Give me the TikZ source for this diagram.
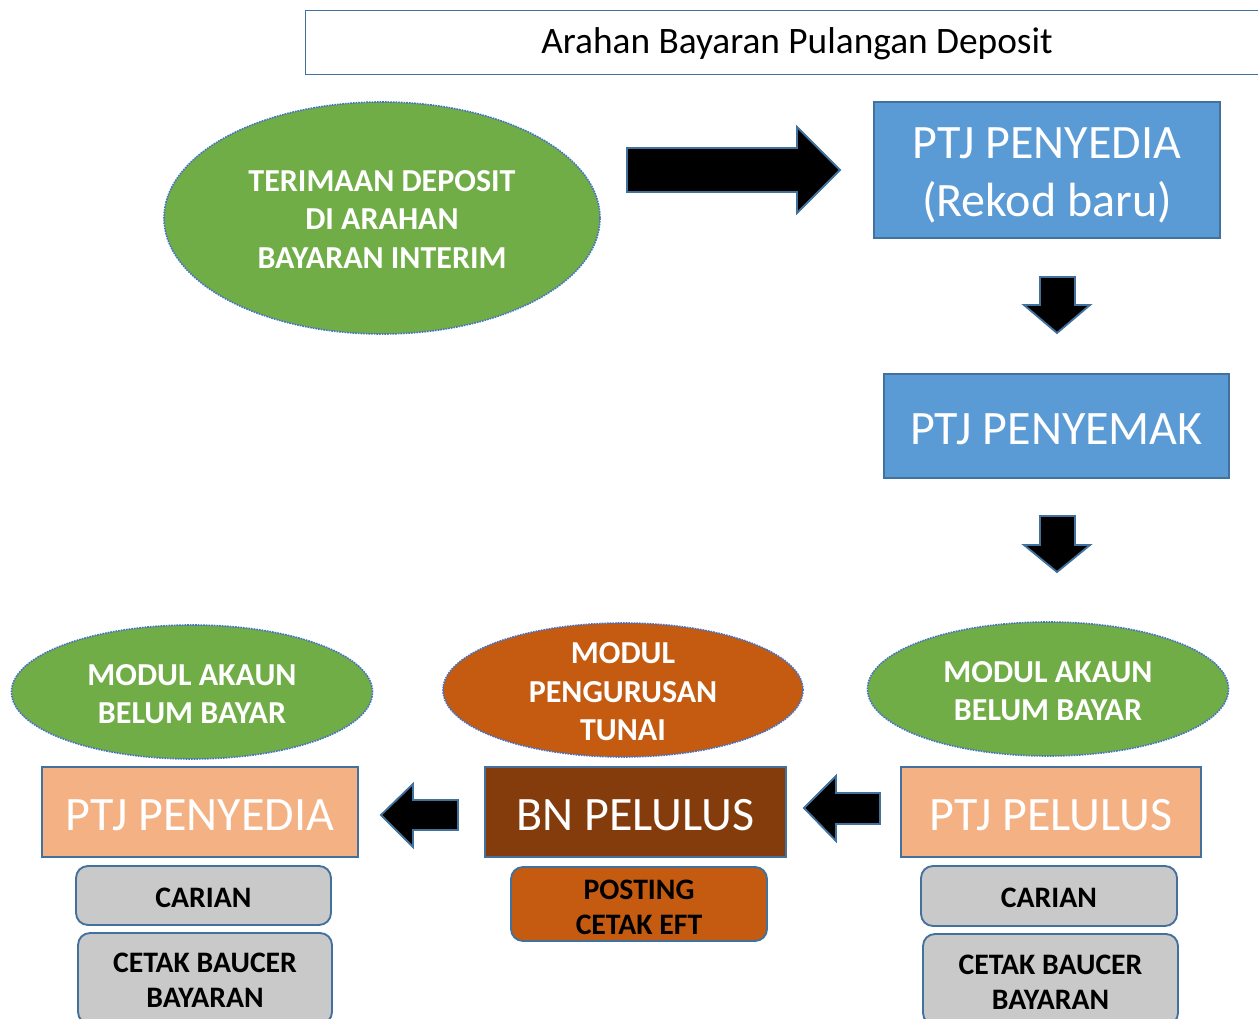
\documentclass[tikz,border=0pt]{standalone}
\usepackage{fontspec}
\setmainfont{Carlito}
\usetikzlibrary{shapes.geometric}
\definecolor{bordc}{HTML}{41719C}
\definecolor{dotc}{HTML}{4472C4}
\definecolor{grn}{HTML}{70AD47}
\definecolor{blu}{HTML}{5B9BD5}
\definecolor{peach}{HTML}{F4B183}
\definecolor{brn}{HTML}{843C0C}
\definecolor{org}{HTML}{C55A11}
\definecolor{gry}{HTML}{C9C9C9}
\tikzset{
  ell/.style={ellipse, draw=dotc, line width=1.2pt, dash pattern=on 1.2pt off 0.8pt, inner sep=0pt},
  ebold/.style={align=center, text=white, font=\bfseries\fontsize{24}{28.9}\selectfont},
  bigbox/.style={rectangle, draw=bordc, line width=1.4pt, inner sep=0pt},
  bigtxt/.style={text=white, align=center, font=\fontsize{36}{43.5}\selectfont},
  rbox/.style={rectangle, rounded corners=9pt, draw=bordc, line width=1.4pt, fill=gry, inner sep=0pt},
  rtxt/.style={align=center, font=\bfseries\fontsize{22.3}{26.3}\selectfont},
  blk/.style={fill=black, draw=bordc, line width=1.4pt, line join=miter},
}
\begin{document}
\begin{tikzpicture}[x=0.75pt,y=-0.75pt]
\useasboundingbox (0,0) rectangle (1258,1019);
\clip (0,0) rectangle (1258,1019);
\fill[white] (0,0) rectangle (1258,1019);

% title
\node (title) [rectangle, draw=bordc, line width=1pt, anchor=north west, minimum width=960*0.75pt, minimum height=64*0.75pt, inner sep=0pt] at (305,10) {};
\node (titletxt) [font=\fontsize{28}{34}\selectfont] at (797,44) {Arahan Bayaran Pulangan Deposit};

% top ellipse
\node (e1) [ell, fill=grn, minimum width=436*0.75pt, minimum height=232*0.75pt] at (382,218) {};
\node (e1t) [ebold] at (382,219.5) {TERIMAAN DEPOSIT\\DI ARAHAN\\BAYARAN INTERIM};

% big arrow
\draw[blk] (627,148) -- (797,148) -- (797,127) -- (840,170) -- (797,213) -- (797,192) -- (627,192) -- cycle;

% PTJ PENYEDIA (Rekod baru)
\node (p1) [bigbox, fill=blu, minimum width=346*0.75pt, minimum height=136*0.75pt] at (1047,170) {};
\node (p1t) [bigtxt] at (1047,175) {PTJ PENYEDIA\\(Rekod baru)};

% down arrow 1
\draw[blk] (1040,277) -- (1075,277) -- (1075,305) -- (1090,305) -- (1057,333) -- (1024,305) -- (1040,305) -- cycle;

% PTJ PENYEMAK
\node (p2) [bigbox, fill=blu, minimum width=345*0.75pt, minimum height=104*0.75pt] at (1056.5,426) {};
\node (p2t) [bigtxt] at (1056.5,429) {PTJ PENYEMAK};

% down arrow 2
\draw[blk] (1040,516) -- (1075,516) -- (1075,545) -- (1090,545) -- (1057,572) -- (1024,545) -- (1040,545) -- cycle;

% bottom ellipses
\node (m1) [ell, fill=grn, minimum width=361*0.75pt, minimum height=134*0.75pt] at (192,692) {};
\node (m1t) [ebold] at (192,694) {MODUL AKAUN\\BELUM BAYAR};
\node (m2) [ell, fill=org, minimum width=360*0.75pt, minimum height=134*0.75pt] at (623,690) {};
\node (m2t) [ebold] at (623,692) {MODUL\\PENGURUSAN\\TUNAI};
\node (m3) [ell, fill=grn, minimum width=361*0.75pt, minimum height=134*0.75pt] at (1048,689) {};
\node (m3t) [ebold] at (1048,691) {MODUL AKAUN\\BELUM BAYAR};

% row boxes
\node (b1) [bigbox, fill=peach, minimum width=316*0.75pt, minimum height=90*0.75pt] at (200,812) {};
\node (b1t) [bigtxt] at (200,815) {PTJ PENYEDIA};
\node (b2) [bigbox, fill=brn, minimum width=301*0.75pt, minimum height=90*0.75pt] at (635.5,812) {};
\node (b2t) [bigtxt] at (635.5,815) {BN PELULUS};
\node (b3) [bigbox, fill=peach, minimum width=300*0.75pt, minimum height=90*0.75pt] at (1051,812) {};
\node (b3t) [bigtxt] at (1051,815) {PTJ PELULUS};

% left arrows
\draw[blk] (458,800) -- (413,800) -- (413,784) -- (381,815) -- (413,847) -- (413,830) -- (458,830) -- cycle;
\draw[blk] (880,793) -- (836,793) -- (836,776) -- (804,808) -- (836,841) -- (836,824) -- (880,824) -- cycle;

% rounded boxes
\node (c1) [rbox, minimum width=255*0.75pt, minimum height=59*0.75pt] at (203.5,895.5) {};
\node (c1t) [rtxt] at (203.5,897.5) {CARIAN};
\node (c2) [rbox, minimum width=254*0.75pt, minimum height=91*0.75pt] at (205,978.5) {};
\node (c2t) [rtxt] at (205,980.5) {CETAK BAUCER\\BAYARAN};
\node (c3) [rbox, fill=org, minimum width=256*0.75pt, minimum height=74*0.75pt] at (639,904) {};
\node (c3t) [rtxt] at (639,907) {POSTING\\CETAK EFT};
\node (c4) [rbox, minimum width=256*0.75pt, minimum height=60*0.75pt] at (1049,896) {};
\node (c4t) [rtxt] at (1049,898) {CARIAN};
\node (c5) [rbox, minimum width=255*0.75pt, minimum height=91*0.75pt] at (1050.5,979.5) {};
\node (c5t) [rtxt] at (1050.5,982) {CETAK BAUCER\\BAYARAN};
\end{tikzpicture}
\end{document}
